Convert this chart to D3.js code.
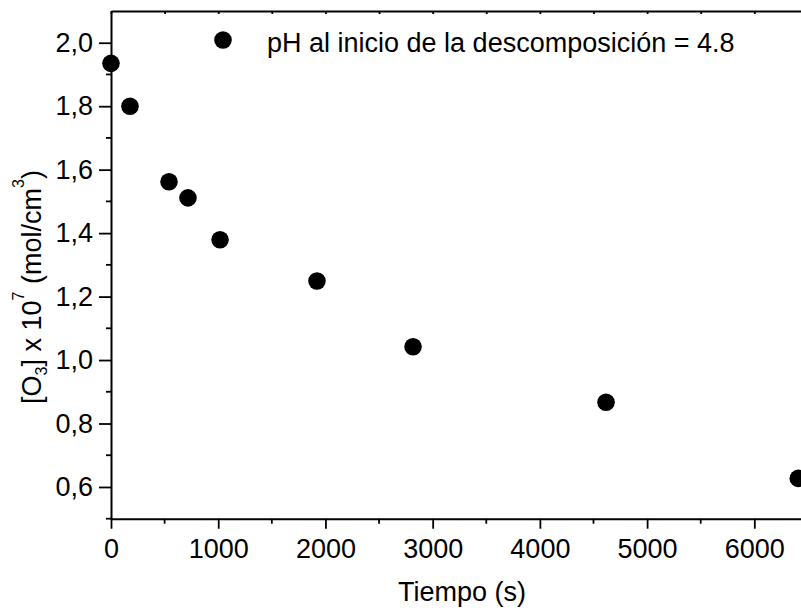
<!DOCTYPE html>
<html>
<head>
<meta charset="utf-8">
<script src="https://cdn.jsdelivr.net/npm/d3@7"></script>
<style>
  html, body { margin: 0; padding: 0; background: #fff; }
  svg { display: block; font-family: "Liberation Sans", Arial, sans-serif; }
</style>
</head>
<body>
<svg id="chart" width="801" height="611"></svg>
<script>
// Ozone concentration during decomposition
const times = [0, 177, 541, 718, 1017, 1921, 2817, 4617, 6410];
const ozone = [1.935, 1.80, 1.562, 1.511, 1.379, 1.249, 1.042, 0.867, 0.627];
const xTicks = [0, 1000, 2000, 3000, 4000, 5000, 6000];
const yTicks = [0.6, 0.8, 1.0, 1.2, 1.4, 1.6, 1.8, 2.0];
const legendText = "pH al inicio de la descomposición = 4.8";

const svg = d3.select("#chart");
const plotLeft = 111, plotTop = 11, plotBottom = 518.7;
const fontSize = 27;

const x = d3.scaleLinear().domain([0, 6500]).range([plotLeft, plotLeft + 6500 * 0.10722]);
const y = d3.scaleLinear().domain([0.5, 2.1]).range([plotBottom, plotTop]);

const fmtY = v => d3.format(".1f")(v).replace(".", ",");
const minorX = d3.range(500, 6500, 1000);
const minorY = d3.range(0.7, 2.1, 0.2);

const axisColor = "#000";
const g = svg.append("g");

// Bottom axis
const bx = g.append("g").attr("transform", `translate(0,${plotBottom})`)
  .call(d3.axisBottom(x).tickValues(xTicks).tickFormat(d3.format("d")).tickSize(10).tickSizeOuter(0).tickPadding(10));
bx.append("g").selectAll("line").data(minorX).join("line")
  .attr("x1", d => x(d)).attr("x2", d => x(d)).attr("y1", 0).attr("y2", 5);

// Top axis with inward ticks
g.append("g").attr("transform", `translate(0,${plotTop})`)
  .call(d3.axisTop(x).tickValues(d3.range(0, 6500, 500)).tickFormat("").tickSize(-3).tickSizeOuter(0));

// Left axis
const ly = g.append("g").attr("transform", `translate(${plotLeft},0)`)
  .call(d3.axisLeft(y).tickValues(yTicks).tickFormat(fmtY).tickSize(12).tickSizeOuter(0).tickPadding(6));
ly.append("g").selectAll("line").data(minorY.concat([0.5])).join("line")
  .attr("x1", -5).attr("x2", 0).attr("y1", d => y(d)).attr("y2", d => y(d));

g.selectAll(".domain").attr("stroke", axisColor).attr("stroke-width", 2);
g.selectAll("line").attr("stroke", axisColor).attr("stroke-width", 1.8);
g.selectAll(".tick text").attr("fill", "#000").attr("font-size", fontSize);

// Points
svg.append("g").selectAll("circle").data(times).join("circle")
  .attr("cx", d => x(d)).attr("cy", (d, i) => y(ozone[i]))
  .attr("r", 8.8).attr("fill", "#000");

// Legend
svg.append("circle").attr("cx", 223).attr("cy", 40).attr("r", 8.8).attr("fill", "#000");
svg.append("text").attr("x", 267).attr("y", 52).attr("font-size", fontSize).attr("fill", "#000").text(legendText);

// Axis titles
svg.append("text").attr("x", 462).attr("y", 601).attr("text-anchor", "middle")
  .attr("font-size", fontSize).text("Tiempo (s)");

const yl = svg.append("text").attr("transform", "translate(41,287) rotate(-90)")
  .attr("text-anchor", "middle").attr("font-size", fontSize);
yl.append("tspan").text("[O");
yl.append("tspan").attr("font-size", 16).attr("dy", 6).text("3");
yl.append("tspan").attr("dy", -6).text("] x 10");
yl.append("tspan").attr("font-size", 16).attr("dy", -17).text("7");
yl.append("tspan").attr("dy", 17).text(" (mol/cm");
yl.append("tspan").attr("font-size", 16).attr("dy", -17).text("3");
yl.append("tspan").attr("dy", 17).text(")");
</script>
</body>
</html>
